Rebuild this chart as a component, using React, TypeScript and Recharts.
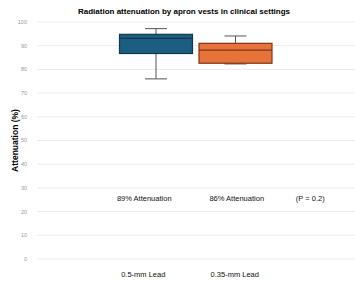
import { ComposedChart, Bar, XAxis, YAxis, CartesianGrid, ReferenceDot } from 'recharts'

const categories = ['', '0.5-mm Lead', '0.35-mm Lead', ' ']
const mins = [null, 76.0, 82.3, null]
const q1s = [null, 86.7, 82.6, null]
const medians = [null, 93.1, 88.1, null]
const q3s = [null, 94.8, 91.0, null]
const maxs = [null, 97.2, 94.1, null]
const yTicks = [0, 10, 20, 30, 40, 50, 60, 70, 80, 90, 100]
const notes = [
  { cat: '0.5-mm Lead', text: '89% Attenuation', dx: -12 },
  { cat: '0.35-mm Lead', text: '86% Attenuation', dx: 1 },
  { cat: ' ', text: '(P = 0.2)', dx: -5 },
]
const tickShift = [0, -13, -1, 0]

const fills = ['#1c5d82', '#1c5d82', '#e8733a', '#e8733a']
const strokes = ['#12384f', '#12384f', '#7e3416', '#7e3416']

const data = categories.map((c, i) => ({
  name: c,
  range: mins[i] == null ? null : [mins[i], maxs[i]],
  q1: q1s[i], med: medians[i], q3: q3s[i], lo: mins[i], hi: maxs[i], idx: i,
}))

const BoxShape = (props: any) => {
  const { x, y, width, height, payload } = props
  if (payload.lo == null) return null
  const top = Math.min(y, y + height)
  const h = Math.abs(height)
  const px = (v: number) => top + ((payload.hi - v) / (payload.hi - payload.lo)) * h
  const cx = x + width / 2
  const cap = 11
  const fill = fills[payload.idx]
  const stroke = strokes[payload.idx]
  return (
    <g>
      <line x1={cx} x2={cx} y1={px(payload.hi)} y2={px(payload.q3)} stroke="#555" strokeWidth={1} />
      <line x1={cx} x2={cx} y1={px(payload.q1)} y2={px(payload.lo)} stroke="#555" strokeWidth={1} />
      <line x1={cx - cap} x2={cx + cap} y1={px(payload.hi)} y2={px(payload.hi)} stroke="#555" strokeWidth={1} />
      <line x1={cx - cap} x2={cx + cap} y1={px(payload.lo)} y2={px(payload.lo)} stroke="#555" strokeWidth={1} />
      <rect x={x} y={px(payload.q3)} width={width} height={px(payload.q1) - px(payload.q3)} fill={fill} stroke={stroke} strokeWidth={1.2} />
      <line x1={x} x2={x + width} y1={px(payload.med)} y2={px(payload.med)} stroke={stroke} strokeWidth={1.2} />
    </g>
  )
}

const XTick = (props: any) => {
  const { x, y, payload, index } = props
  return (
    <text x={x + (tickShift[index] || 0)} y={y + 10} textAnchor="middle" fontSize={7.5} fill="#111" fontFamily="Liberation Sans, Arial, sans-serif">
      {payload.value}
    </text>
  )
}

export default function App() {
  return (
    <div style={{ position: 'absolute', left: 0, top: 0, width: 355, height: 281, background: '#fff', fontFamily: 'Liberation Sans, Arial, sans-serif' }}>
      <div style={{ position: 'absolute', top: 6.5, left: 0, width: 368, textAlign: 'center', fontSize: 8, fontWeight: 700, color: '#000' }}>
        Radiation attenuation by apron vests in clinical settings
      </div>
      <ComposedChart width={355} height={281} data={data} margin={{ top: 22, right: 0, left: 0, bottom: 0 }} barCategoryGap="4%">
        <CartesianGrid vertical={false} stroke="#e6e6e6" strokeWidth={0.8} />
        <XAxis dataKey="name" axisLine={false} tickLine={false} height={22} tick={<XTick />} interval={0} />
        <YAxis
          domain={[0, 100]} ticks={yTicks} width={37} axisLine={false} tickLine={false}
          tick={{ fontSize: 5.5, fill: '#999' }} tickMargin={4}
          label={{ value: 'Attenuation (%)', angle: -90, position: 'insideLeft', offset: 15, fill: '#000', style: { fontSize: 8.5, fontWeight: 700, fill: '#000', textAnchor: 'middle' } }}
        />
        <Bar dataKey="range" barSize={73} shape={<BoxShape />} isAnimationActive={false} />
        {notes.map((n) => (
          <ReferenceDot key={n.text} x={n.cat} y={25.5} r={0} fill="none" stroke="none"
            label={{ value: n.text, position: 'center', dx: n.dx, fill: '#111', style: { fontSize: 7.5, fill: '#111' } }} />
        ))}
      </ComposedChart>
    </div>
  )
}
